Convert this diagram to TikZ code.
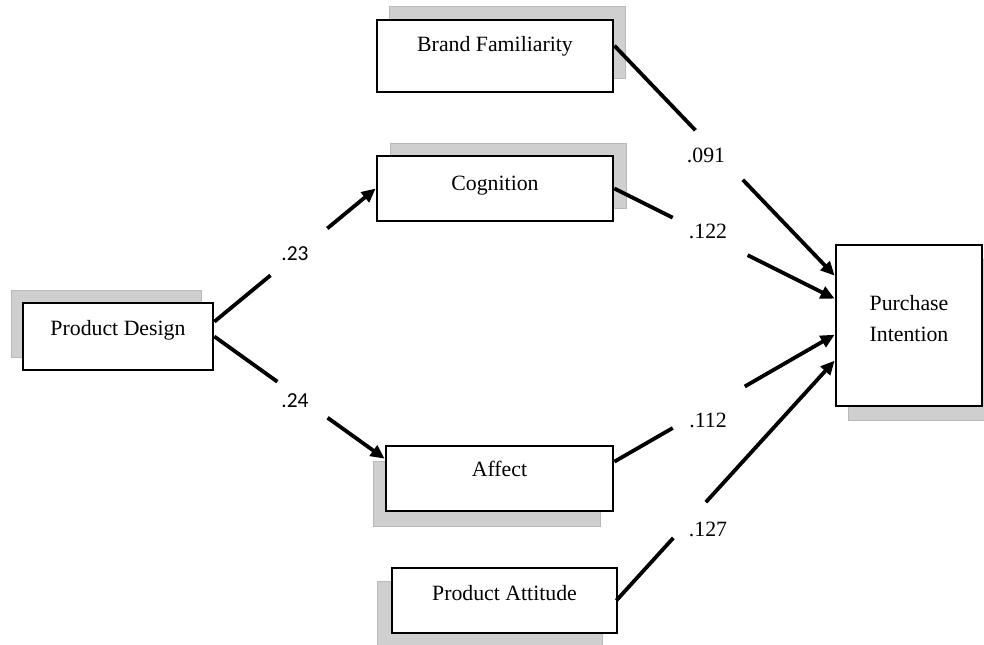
\documentclass[tikz,border=0pt]{standalone}
\usepackage{fontspec}
\setmainfont{Liberation Serif}
\newfontfamily\calibfont{Carlito}
\usetikzlibrary{arrows.meta,calc,shadows}
\begin{document}
\begin{tikzpicture}[x=0.5pt,y=-0.5pt,
  box/.style={draw=black, line width=1.35pt, fill=white, inner sep=0pt},
  shad/.style 2 args={drop shadow={shadow xshift=#1, shadow yshift=#2, fill=gray!38, draw=gray!55, line width=0.3pt, opacity=1}},
  txt/.style={inner sep=0pt, font=\fontsize{10.9pt}{15.5pt}\selectfont},
  coef/.style={inner sep=0pt, font=\fontsize{10.9pt}{13pt}\selectfont},
  coefc/.style={inner sep=0pt, font=\calibfont\fontsize{10.7pt}{13pt}\selectfont},
  link/.style={line width=1.9pt, line cap=butt},
  arr/.style={link, -{Triangle[length=7pt,width=6.3pt]}}
]
\useasboundingbox (0,0) rectangle (984,644);

% boxes
\node[box, shad={6pt}{7pt}, minimum width=118pt, minimum height=36pt] (bf) at (495,56) {};
\node[box, shad={6.5pt}{6.5pt}, minimum width=118pt, minimum height=32.5pt] (cog) at (495,188.5) {};
\node[box, shad={-6pt}{6.5pt}, minimum width=95pt, minimum height=33.5pt] (pd) at (118,336.5) {};
\node[box, shad={-6.5pt}{-7.5pt}, minimum width=113.5pt, minimum height=32.5pt] (aff) at (499.5,478.5) {};
\node[box, shad={-7.5pt}{-6.5pt}, minimum width=112.5pt, minimum height=32.5pt] (pa) at (504.5,600.5) {};
\node[box, shad={6pt}{-7pt}, minimum width=73pt, minimum height=80.5pt] (pi) at (909,325.5) {};

% texts
\node[txt, anchor=base] (bft) at ($(bf.north)+(0,33)$) {Brand Familiarity};
\node[txt, anchor=base] (cogt) at ($(cog.north)+(0,36)$) {Cognition};
\node[txt, anchor=base] (pdt) at ($(pd.north)+(0,34)$) {Product Design};
\node[txt, anchor=base] (afft) at ($(aff.north)+(0,32)$) {Affect};
\node[txt, anchor=base] (pat) at ($(pa.north)+(0,34)$) {Product Attitude};
\node[txt, anchor=north, align=center] (pit) at ($(pi.north)+(0,51)$) {Purchase\\Intention};

% connector end points
\coordinate (pdA) at ($(pd.north east)+(0,20)$);
\coordinate (cogIn) at (cog.west);
\coordinate (pdB) at (pd.east);
\coordinate (affIn) at ($(aff.north west)+(0,14)$);
\coordinate (bfOut) at ($(bf.north east)+(0,27)$);
\coordinate (piA) at ($(pi.north west)+(0,32)$);
\coordinate (cogOut) at (cog.east);
\coordinate (piB) at ($(pi.north west)+(0,55)$);
\coordinate (affOut) at ($(aff.north east)+(0,17)$);
\coordinate (piC) at ($(pi.north west)+(0,91)$);
\coordinate (paOut) at ($(pa.east)+(-2,0)$);
\coordinate (piD) at ($(pi.north west)+(0,117)$);

% connectors (broken where the coefficient sits)
\draw[link] (pdA) -- ($(pdA)!0.348!(cogIn)$);
\draw[arr] ($(pdA)!0.70!(cogIn)$) -- (cogIn);
\draw[link] (pdB) -- ($(pdB)!0.37!(affIn)$);
\draw[arr] ($(pdB)!0.665!(affIn)$) -- (affIn);

\draw[link] (bfOut) -- ($(bfOut)!0.368!(piA)$);
\draw[arr] ($(bfOut)!0.583!(piA)$) -- (piA);
\draw[link] (cogOut) -- ($(cogOut)!0.265!(piB)$);
\draw[arr] ($(cogOut)!0.605!(piB)$) -- (piB);
\draw[link] (affOut) -- ($(affOut)!0.265!(piC)$);
\draw[arr] ($(affOut)!0.592!(piC)$) -- (piC);
\draw[link] (paOut) -- ($(paOut)!0.261!(piD)$);
\draw[arr] ($(paOut)!0.41!(piD)$) -- (piD);

% coefficients
\node[coefc] (c23) at (295,254) {.23};
\node[coefc] (c24) at (295,401) {.24};
\node[coef] (c091) at (706,155) {.091};
\node[coef] (c122) at (708,231) {.122};
\node[coef] (c112) at (708,420) {.112};
\node[coef] (c127) at (708,529) {.127};
\end{tikzpicture}
\end{document}
